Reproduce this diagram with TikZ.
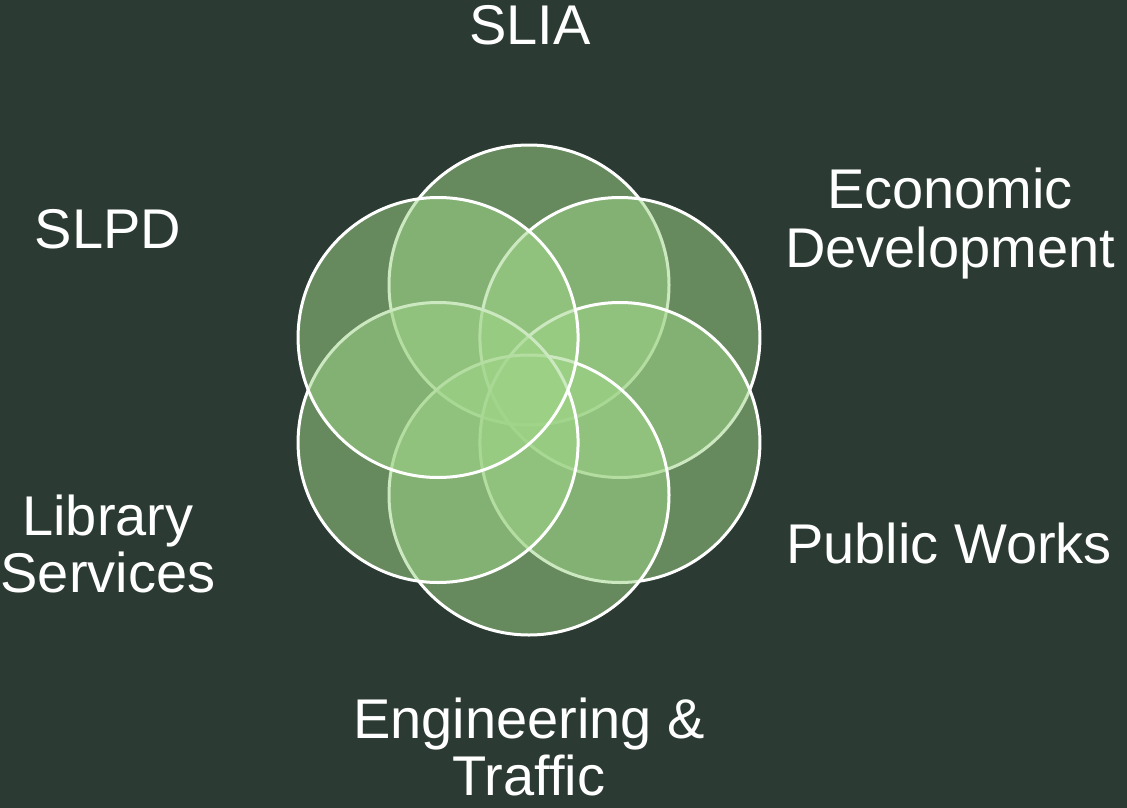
\documentclass[tikz,border=0pt]{standalone}
\usepackage{fontspec}
\setmainfont{Liberation Sans}
\definecolor{bgcol}{HTML}{2B3A32}
\definecolor{petal}{HTML}{9ED487}
\begin{document}
\begin{tikzpicture}[x=1pt,y=-1pt,
  petalc/.style={fill=petal,fill opacity=0.52,draw=white,draw opacity=1,line width=3pt},
  lbl/.style={text=white,font=\fontsize{56pt}{58pt}\selectfont,inner sep=0pt,anchor=base,align=center}]
\fill[bgcol] (0,0) rectangle (1127,808);
\useasboundingbox (0,0) rectangle (1127,808);
\coordinate (ctr) at (529,390);
\foreach \n/\a in {slia/90,econ/30,pw/-30,eng/-90,lib/-150,slpd/150}{
  \path (ctr) ++(\a:105pt) coordinate (c\n);
}
\path[petalc] (cslia) circle[radius=140pt];
\path[petalc] (cecon) circle[radius=140pt];
\path[petalc] (cpw) circle[radius=140pt];
\path[petalc] (ceng) circle[radius=140pt];
\path[petalc] (clib) circle[radius=140pt];
\path[petalc] (cslpd) circle[radius=140pt];
\node[lbl] (tslia) at (530,45) {SLIA};
\node[lbl] (tslpd) at (108,248) {SLPD};
\node[lbl] (tecon1) at (950,208) {Economic};
\node[lbl] (tecon2) at (950,267) {Development};
\node[lbl] (tlib1) at (108,535) {Library};
\node[lbl] (tlib2) at (108,592) {Services};
\node[lbl] (tpw) at (949,563) {Public Works};
\node[lbl] (teng1) at (529,738) {Engineering \&};
\node[lbl] (teng2) at (529,795) {Traffic};
\end{tikzpicture}
\end{document}
